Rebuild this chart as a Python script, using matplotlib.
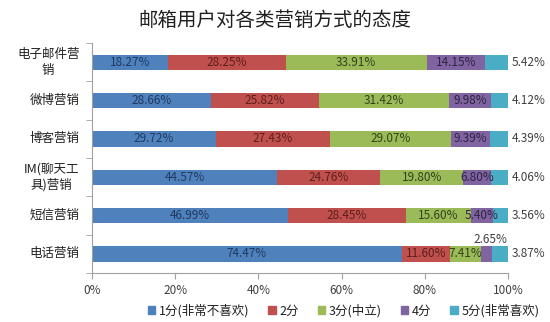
import matplotlib
matplotlib.use("Agg")
import matplotlib.pyplot as plt
import numpy as np

plt.rcParams['font.family'] = ['Noto Sans CJK SC', 'DejaVu Sans']

title = "邮箱用户对各类营销方式的态度"
categories = ["电子邮件营\n销", "微博营销", "博客营销", "IM(聊天工\n具)营销", "短信营销", "电话营销"]
series_names = ["1分(非常不喜欢)", "2分", "3分(中立)", "4分", "5分(非常喜欢)"]
score1 = [18.27, 28.66, 29.72, 44.57, 46.99, 74.47]
score2 = [28.25, 25.82, 27.43, 24.76, 28.45, 11.60]
score3 = [33.91, 31.42, 29.07, 19.80, 15.60, 7.41]
score4 = [14.15, 9.98, 9.39, 6.80, 5.40, 2.65]
score5 = [5.42, 4.12, 4.39, 4.06, 3.56, 3.87]
x_ticks = [0, 20, 40, 60, 80, 100]
x_tick_labels = ["0%", "20%", "40%", "60%", "80%", "100%"]

colors = ["#4F81BD", "#C0504D", "#9BBB59", "#8064A2", "#4BACC6"]
text_colors = ["#1F3A60", "#5C1E1C", "#33421A", "#2E2340", "#404040"]

fig = plt.figure(figsize=(5.5, 3.22), dpi=100)
ax = fig.add_axes([0.1673, 0.152, 0.7564, 0.714])

series = [score1, score2, score3, score4, score5]
n = len(categories)
y = np.arange(n)
left = np.zeros(n)
for i, vals in enumerate(series):
    vals = np.array(vals)
    ax.barh(y, vals, left=left, height=0.4, color=colors[i], edgecolor="none")
    for j in range(n):
        v = vals[j]
        label = f"{v:.2f}%"
        if i == 4:
            ax.text(100.8, y[j], label, ha="left", va="center",
                    fontsize=8.5, color="#404040")
        elif i == 3 and v < 3:
            ax.text(left[j] + v / 2 + 1.0, y[j] - 0.2, label, ha="center",
                    va="bottom", fontsize=8.5, color="#404040")
        else:
            ax.text(left[j] + v / 2, y[j], label, ha="center", va="center",
                    fontsize=8.5, color=text_colors[i])
    left = left + vals

ax.set_xlim(0, 100)
ax.set_ylim(n - 0.5, -0.5)
ax.set_xticks(x_ticks)
ax.set_xticklabels(x_tick_labels, fontsize=8.5, color="#404040")

# category names, right-aligned against the axis, centred line by line
ax.set_yticks([])
for j, name in enumerate(categories):
    ax.annotate(name, xy=(0, y[j]), xycoords=("axes fraction", "data"),
                xytext=(-9, 0), textcoords="offset points",
                ha="right", va="center", multialignment="center",
                fontsize=9, color="#202020", linespacing=1.25)
ax.set_yticks(np.arange(n + 1) - 0.5, minor=True)
ax.tick_params(axis="y", which="minor", length=4, color="#A0A0A0", direction="out")
ax.tick_params(axis="x", length=4, color="#A0A0A0", direction="out", pad=4)

for s in ["top", "right"]:
    ax.spines[s].set_visible(False)
for s in ["left", "bottom"]:
    ax.spines[s].set_color("#A0A0A0")
    ax.spines[s].set_linewidth(0.8)

fig.text(0.5, 0.935, title, ha="center", va="center", fontsize=14, color="#202020")

handles = [plt.Rectangle((0, 0), 1, 1, color=c) for c in colors]
fig.legend(handles, series_names, loc="center", bbox_to_anchor=(0.625, 0.035),
           ncol=5, frameon=False, fontsize=9, handlelength=0.6, handleheight=0.6,
           handletextpad=0.3, columnspacing=1.5, labelcolor="#202020")

fig.savefig("out.png", dpi=100)
